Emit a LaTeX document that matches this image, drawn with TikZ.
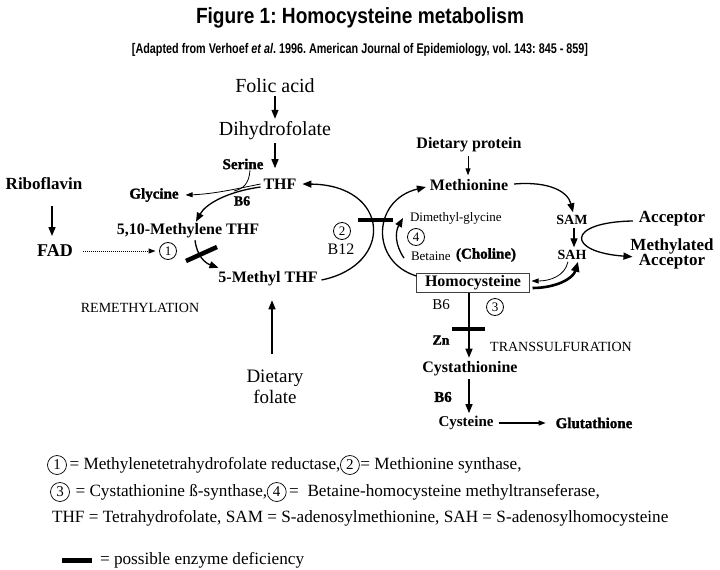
\documentclass[tikz,border=0pt]{standalone}
\usepackage{fontspec}
\usepackage{graphicx}
\setmainfont{Liberation Serif}
\newfontfamily\titlefont{Liberation Sans}
\newfontfamily\heavyfont{Liberation Serif Bold}[FakeBold=1.5]
\usetikzlibrary{arrows.meta}
\tikzset{
  every node/.style={inner sep=0pt, outer sep=0pt},
  reg/.style={font=\fontsize{#1}{#1}\selectfont},
  bld/.style={font=\fontsize{#1}{#1}\selectfont\bfseries},
  hvy/.style={font=\fontsize{#1}{#1}\selectfont\heavyfont},
  cnum/.style={circle, draw, line width=0.8pt, minimum size=17pt, font=\fontsize{13}{13}\selectfont},
  lnum/.style={circle, draw, line width=0.7pt, minimum size=19pt, font=\fontsize{15}{15}\selectfont},
  arr/.style={-{Triangle[length=9pt,width=7pt]}, line width=1.3pt},
  sarr/.style={-{Triangle[length=7pt,width=5pt]}, line width=0.8pt},
  dotarr/.style={-{Triangle[length=7pt,width=5pt]}, line width=1pt, densely dotted},
  defbar/.style={line width=4.5pt},
  leg/.style={font=\fontsize{17.2}{19}\selectfont, text height=11.5pt, text depth=3.5pt},
}
\begin{document}
\frenchspacing
\begin{tikzpicture}[x=1pt,y=-1pt]
\fill[white] (0,0) rectangle (720,570);
\useasboundingbox (0,0) rectangle (720,570);

% titles
\node (title) at (360,18) {\resizebox{328pt}{\height}{\fontsize{22}{24}\selectfont\titlefont\bfseries\frenchspacing Figure 1: Homocysteine metabolism}};
\node (subtitle) at (360,50) {\resizebox{456pt}{\height}{\fontsize{14}{16}\selectfont\titlefont\bfseries\frenchspacing [Adapted from Verhoef \textit{et al}. 1996. American Journal of Epidemiology, vol. 143: 845 - 859]}};

% folate cycle
\node[reg=20] (folic) at (275,86) {Folic acid};
\node[reg=20] (dihydro) at (275,131) {Dihydrofolate};
\node[hvy=15] (serine) at (243,164) {Serine};
\node[bld=16] (thf) at (280,184) {THF};
\node[bld=17] (ribo) at (44,184) {Riboflavin};
\node[bld=18] (fad) at (55,251) {FAD};
\node[hvy=15] (glycine) at (154,195) {Glycine};
\node[hvy=14] (b6a) at (242,201) {B6};
\node[bld=16] (methylene) at (188,231) {5,10-Methylene THF};
\node[cnum] (c1) at (168,251) {1};
\node[bld=16] (methyl) at (268,279) {5-Methyl THF};
\node[reg=14] (remeth) at (140,308) {REMETHYLATION};
\node[reg=19, align=center, font=\fontsize{19}{21}\selectfont] (dietfol) at (275,387) {Dietary\\folate};
\node[cnum] (c2) at (342,231) {2};
\node[reg=16] (b12) at (341,249) {B12};

% methionine cycle
\node[reg=13, anchor=west] (dmg) at (410,218) {Dimethyl-glycine};
\node[cnum] (c4) at (416,237) {4};
\node[reg=13, anchor=west] (betaine) at (411,256) {Betaine};
\node[hvy=15, anchor=west] (choline) at (456,255) {(Choline)};
\node[bld=16] (dietprot) at (469,145) {Dietary protein};
\node[bld=16] (methionine) at (469,185) {Methionine};
\node[bld=14] (sam) at (572,220) {SAM};
\node[bld=14] (sah) at (572,255) {SAH};
\node[bld=17] (acceptor) at (672,219) {Acceptor};
\node[bld=17] (methylated) at (672,246) {Methylated};
\node[bld=17] (acceptor2) at (672,262) {Acceptor};
\node[bld=16, draw=black!75, line width=0.8pt, minimum width=113pt, minimum height=19pt] (homocys) at (473,283) {Homocysteine};
\node[reg=15] (b6b) at (441,305) {B6};
\node[cnum] (c3) at (495,307) {3};
\node[hvy=14] (zn) at (441,340) {Zn};
\node[reg=14] (trans) at (561,347) {TRANSSULFURATION};
\node[bld=16] (cysta) at (470,369) {Cystathionine};
\node[hvy=15] (b6c) at (443,397) {B6};
\node[bld=15] (cysteine) at (466,423) {Cysteine};
\node[hvy=15] (glut) at (594,423) {Glutathione};

% connectors: folate side
\draw[arr] ([shift={(0,3)}]folic.south) -- ([shift={(0,-3)}]dihydro.north);
\draw[arr] ([shift={(0,3)}]dihydro.south) -- ([shift={(0,28)}]dihydro.south);
\draw[arr] ([shift={(-3,3)}]thf.west) .. controls (225,192) and (205,205) .. ([shift={(8,-2)}]methylene.north);
\coordinate (sj) at (234,191);
\draw[sarr] ([shift={(-3,0)}]thf.west) .. controls (240,188) and (215,194) .. ([shift={(7,0)}]glycine.east);
\draw[line width=0.8pt] ([shift={(7,1)}]serine.south) .. controls (249,184) and (243,189) .. (sj);
\draw[arr] ([shift={(7,2)}]methylene.south) .. controls (197,256) and (205,263) .. ([shift={(0,-4)}]methyl.north west);
\draw[defbar] (186,261) -- (217,247);
\draw[dotarr] ([shift={(10,0)}]fad.east) -- ([shift={(-4,0)}]c1.west);
\draw[arr] ([shift={(-3,16)}]ribo.south -| fad.north) -- ([shift={(-3,-9)}]fad.north);
\draw[arr] ([shift={(-3,-16)}]dietfol.north) -- ([shift={(4,14)}]methyl.south);
\draw[arr] ([shift={(4,1)}]methyl.east) .. controls (395,265) and (390,185) .. ([shift={(6,0)}]thf.east);
\draw[defbar] (358,220) -- (393,220);

% connectors: methionine side
\draw[arr] ([shift={(0,-7)}]homocys.west) .. controls (370,262) and (372,200) .. ([shift={(-4,2)}]methionine.west);
\draw[arr] ([shift={(-7,2)}]betaine.west) .. controls (395,245) and (395,232) .. ([shift={(-7,0)}]dmg.west);
\draw[sarr] ([shift={(-1,4)}]dietprot.south) -- ([shift={(-1,-4)}]methionine.north);
\draw[arr] ([shift={(6,-1)}]methionine.east) .. controls (550,181) and (568,192) .. ([shift={(1,-3)}]sam.north);
\draw[arr] ([shift={(2,3)}]sam.south) -- ([shift={(2,-3)}]sah.north);
\draw[arr] ([shift={(-6,2)}]acceptor.west) .. controls (566,222) and (566,252) .. ([shift={(2,3)}]methylated.south west);
\draw[sarr] ([shift={(-4,2)}]sah.south) .. controls (565,276) and (550,281) .. ([shift={(2,-2)}]homocys.east);
\draw[-{Triangle[length=10pt,width=8pt]}, line width=2.6pt] ([shift={(3,5)}]homocys.east) .. controls (555,288) and (573,279) .. ([shift={(6,2)}]sah.south);
\draw[arr] ([shift={(-4,0)}]homocys.south) -- ([shift={(-1,-4)}]cysta.north);
\draw[defbar] (452,329) -- (485,329);
\draw[arr] ([shift={(-1,3)}]cysta.south) -- ([shift={(3,-3)}]cysteine.north);
\draw[sarr, line width=1.2pt] ([shift={(5,0)}]cysteine.east) -- ([shift={(-10,0)}]glut.west);

% legend
\node[lnum] (l1) at (57,465) {1};
\node[leg, anchor=west] (l1t) at ([shift={(3,0)}]l1.east) {= Methylenetetrahydrofolate reductase,};
\node[lnum, anchor=west] (l2) at (l1t.east) {2};
\node[leg, anchor=west] (l2t) at ([shift={(1,0)}]l2.east) {= Methionine synthase,};
\node[lnum] (l3) at (60,492) {3};
\node[leg, anchor=west] (l3t) at ([shift={(6,0)}]l3.east) {= Cystathionine ß-synthase,};
\node[lnum, anchor=west] (l4) at (l3t.east) {4};
\node[leg, anchor=west] (l4t) at ([shift={(3,0)}]l4.east) {=\ \ Betaine-homocysteine methyltranseferase,};
\node[leg, anchor=west] (l5) at (52,518) {THF = Tetrahydrofolate, SAM = S-adenosylmethionine, SAH = S-adenosylhomocysteine};
\node[leg, anchor=west] (l6) at (100,560) {= possible enzyme deficiency};
\draw[line width=5pt] ([shift={(-38,0)}]l6.west) -- ([shift={(-8,0)}]l6.west);
\end{tikzpicture}
\end{document}
